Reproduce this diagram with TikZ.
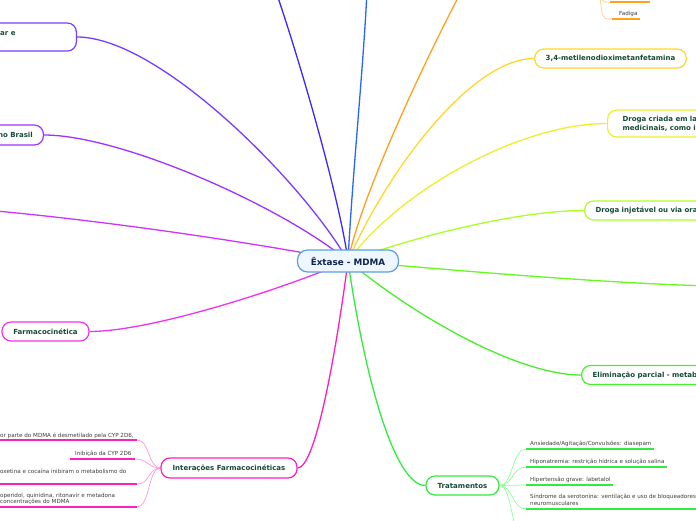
\documentclass[tikz,border=0pt]{standalone}
\usepackage{fontspec}
\setmainfont{DejaVu Sans}
\usetikzlibrary{positioning}
\pgfdeclarelayer{background}
\pgfsetlayers{background,main}
\definecolor{hubline}{RGB}{90,160,220}
\definecolor{hubfill}{RGB}{238,246,255}
\definecolor{hubtext}{RGB}{15,35,80}
\definecolor{topictext}{RGB}{20,75,55}
\definecolor{leafgrey}{RGB}{60,60,60}
\definecolor{brViolet}{RGB}{120,60,255}
\definecolor{brIndigo}{RGB}{60,40,255}
\definecolor{brBlue}{RGB}{40,100,255}
\definecolor{brOrange}{RGB}{255,160,30}
\definecolor{brGold}{RGB}{255,215,40}
\definecolor{brYellow}{RGB}{235,240,40}
\definecolor{brYellowGreen}{RGB}{170,255,40}
\definecolor{brLime}{RGB}{100,250,30}
\definecolor{brGreen}{RGB}{70,240,40}
\definecolor{brGreenTwo}{RGB}{50,235,60}
\definecolor{brPink}{RGB}{255,30,190}
\definecolor{brMagenta}{RGB}{240,50,240}
\definecolor{brOrchid}{RGB}{210,50,255}
\definecolor{brPurple}{RGB}{160,50,255}
\definecolor{twPink}{RGB}{255,150,225}
\definecolor{twGreen}{RGB}{140,255,150}
\definecolor{twOrange}{RGB}{255,205,140}
\tikzset{
  hubbox/.style={draw=hubline, line width=1.2pt, rounded corners=10pt, fill=hubfill, minimum width=101pt, minimum height=22pt, font=\fontsize{8.8}{10}\selectfont\bfseries, text=hubtext},
  topicbox/.style={draw=#1, line width=1.2pt, rounded corners=9pt, fill=white, minimum height=19pt, inner xsep=11pt, font=\fontsize{7}{9.3}\selectfont\bfseries, text=topictext},
  topiclabel/.style={font=\fontsize{7}{9.3}\selectfont\bfseries, text=topictext, inner sep=0pt},
  leaftext/.style={font=\fontsize{5.6}{6.6}\selectfont, text=leafgrey, inner sep=0pt, align=left},
  branch/.style={draw=#1, line width=1.3pt},
  twig/.style={draw=#1, line width=0.7pt},
  leafbar/.style={draw=#1, line width=1.6pt}
}
\begin{document}
\begin{tikzpicture}[x=1pt, y=-1pt]
  \useasboundingbox (0,0) rectangle (696,520);
  \node[hubbox] (hub) at (348,261) {Êxtase - MDMA};
  \node[topicbox=brViolet, anchor=east, minimum width=180pt, minimum height=28pt] (uso) at (77,37) {};
  \node[topiclabel, anchor=base west] (usotxt) at (0,35.5) {ar e};
  \node[topicbox=brPurple, anchor=east, minimum width=130pt, minimum height=20pt] (brasil) at (44,135) {};
  \node[topiclabel, anchor=base east] (brasiltxt) at (33,137.8) {no Brasil};
  \node[topicbox=brMagenta, minimum width=87pt] (farmaco) at (45.5,331.5) {Farmacocinética};
  \node[topicbox=brPink, minimum width=136pt, minimum height=20pt] (interacoes) at (229,468) {Interações Farmacocinéticas};
  \node[topicbox=brGreenTwo, minimum width=73pt] (tratamentos) at (462.5,485.5) {Tratamentos};
  \node[topicbox=brGreen, anchor=west, text width=160pt, align=left] (eliminacao) at (581,375) {Eliminação parcial - metab};
  \node[topicbox=brYellowGreen, anchor=west, text width=160pt, align=left] (injetavel) at (584,210.5) {Droga injetável ou via ora};
  \node[topicbox=brYellow, anchor=west, text width=160pt, align=left, minimum height=27pt, inner xsep=15pt] (criada) at (607,123.5) {Droga criada em la\\medicinais, como i};
  \node[topicbox=brGold, minimum width=151pt] (mdma34) at (610.5,58.5) {3,4-metilenodioximetanfetamina};

  \coordinate (upleft) at (272,-20);
  \coordinate (upmid) at (367,-10);
  \coordinate (upright) at (462,-10);
  \coordinate (offright) at (710,286);
  \coordinate (offleft) at (-15,210);

  \coordinate (ia1) at (-5,440); \coordinate (ib1) at (137,440);
  \coordinate (ia2) at (70,459); \coordinate (ib2) at (135,459);
  \coordinate (ia3) at (-5,484); \coordinate (ib3) at (137,484);
  \coordinate (ia4) at (-5,507); \coordinate (ib4) at (137,507);
  \node[leaftext, anchor=base west] (it1) at (0,437) {or parte do MDMA é desmetilado pela CYP 2D6,};
  \node[leaftext, anchor=base west] (it2) at (75,455) {Inibição da CYP 2D6};
  \node[leaftext, anchor=base west] (it3) at (0,473) {oxetina e cocaína inibiram o metabolismo do};
  \node[leaftext, anchor=west] (it4) at (0,499) {operidol, quinidina, ritonavir e metadona\\concentrações do MDMA};

  \coordinate (ta1) at (526,449); \coordinate (tb1) at (654,449);
  \coordinate (ta2) at (526,467); \coordinate (tb2) at (667,467);
  \coordinate (ta3) at (526,485); \coordinate (tb3) at (613,485);
  \coordinate (ta4) at (526,509); \coordinate (tb4) at (700,509);
  \coordinate (ta5) at (526,545);
  \node[leaftext, anchor=base west] (tt1) at (530,445.5) {Ansiedade/Agitação/Convulsões: diasepam};
  \node[leaftext, anchor=base west] (tt2) at (530,463.5) {Hiponatremia: restrição hídrica e solução salina};
  \node[leaftext, anchor=base west] (tt3) at (530,481.5) {Hipertensão grave: labetalol};
  \node[leaftext, anchor=west] (tt4) at (530,500) {Síndrome da serotonina: ventilação e uso de bloqueadores\\neuromusculares};

  \coordinate (orpar) at (598,-20);
  \coordinate (oa1) at (610,2); \coordinate (ob1) at (650,2);
  \coordinate (oa2) at (612,19); \coordinate (ob2) at (640,19);
  \node[leaftext, anchor=base west] (ot2) at (619,15) {Fadiga};

  \begin{pgfonlayer}{background}
    \draw[branch=brViolet] (hub.center) .. controls (305,185) and (160,37) .. (uso.east);
    \draw[branch=brIndigo] (hub.center) .. controls (340,200) and (300,60) .. (upleft);
    \draw[branch=brBlue] (hub.center) .. controls (352,180) and (364,60) .. (upmid);
    \draw[branch=brOrange] (hub.center) .. controls (360,200) and (420,70) .. (upright);
    \draw[branch=brGold] (hub.center) .. controls (385,175) and (470,58.5) .. (mdma34.west);
    \draw[branch=brYellow] (hub.center) .. controls (400,190) and (520,123.5) .. (criada.west);
    \draw[branch=brYellowGreen] (hub.center) .. controls (420,235) and (520,210.5) .. (injetavel.west);
    \draw[branch=brLime] (hub.center) .. controls (450,270) and (600,283) .. (offright);
    \draw[branch=brGreen] (hub.center) .. controls (420,320) and (520,375) .. (eliminacao.west);
    \draw[branch=brGreenTwo] (hub.center) .. controls (365,380) and (395,485.5) .. (tratamentos.west);
    \draw[branch=brPink] (hub.center) .. controls (335,360) and (315,468) .. (interacoes.east);
    \draw[branch=brMagenta] (hub.center) .. controls (280,290) and (150,331.5) .. (farmaco.east);
    \draw[branch=brOrchid] (hub.center) .. controls (250,242) and (100,220) .. (offleft);
    \draw[branch=brPurple] (hub.center) .. controls (280,205) and (120,135) .. (brasil.east);

    \draw[twig=twPink] (interacoes.west) .. controls (148,468) and (150,440) .. (ib1);
    \draw[twig=twPink] (interacoes.west) .. controls (148,468) and (148,459) .. (ib2);
    \draw[twig=twPink] (interacoes.west) .. controls (148,468) and (150,484) .. (ib3);
    \draw[twig=twPink] (interacoes.west) .. controls (148,468) and (150,507) .. (ib4);
    \draw[twig=twGreen] (tratamentos.east) .. controls (513,485.5) and (512,449) .. (ta1);
    \draw[twig=twGreen] (tratamentos.east) .. controls (513,485.5) and (512,467) .. (ta2);
    \draw[twig=twGreen] (tratamentos.east) .. controls (513,485.5) and (512,485) .. (ta3);
    \draw[twig=twGreen] (tratamentos.east) .. controls (513,485.5) and (512,509) .. (ta4);
    \draw[twig=twGreen] (tratamentos.east) .. controls (513,485.5) and (512,545) .. (ta5);
    \draw[twig=twOrange] (orpar) .. controls (601,2) and (600,2) .. (oa1);
    \draw[twig=twOrange] (orpar) .. controls (603,19) and (600,19) .. (oa2);
  \end{pgfonlayer}

  \draw[leafbar=brPink] (ia1) -- (ib1);
  \draw[leafbar=brPink] (ia2) -- (ib2);
  \draw[leafbar=brPink] (ia3) -- (ib3);
  \draw[leafbar=brPink] (ia4) -- (ib4);
  \draw[leafbar=brGreenTwo] (ta1) -- (tb1);
  \draw[leafbar=brGreenTwo] (ta2) -- (tb2);
  \draw[leafbar=brGreenTwo] (ta3) -- (tb3);
  \draw[leafbar=brGreenTwo] (ta4) -- (tb4);
  \draw[leafbar=brOrange] (oa1) -- (ob1);
  \draw[leafbar=brOrange] (oa2) -- (ob2);
\end{tikzpicture}
\end{document}
